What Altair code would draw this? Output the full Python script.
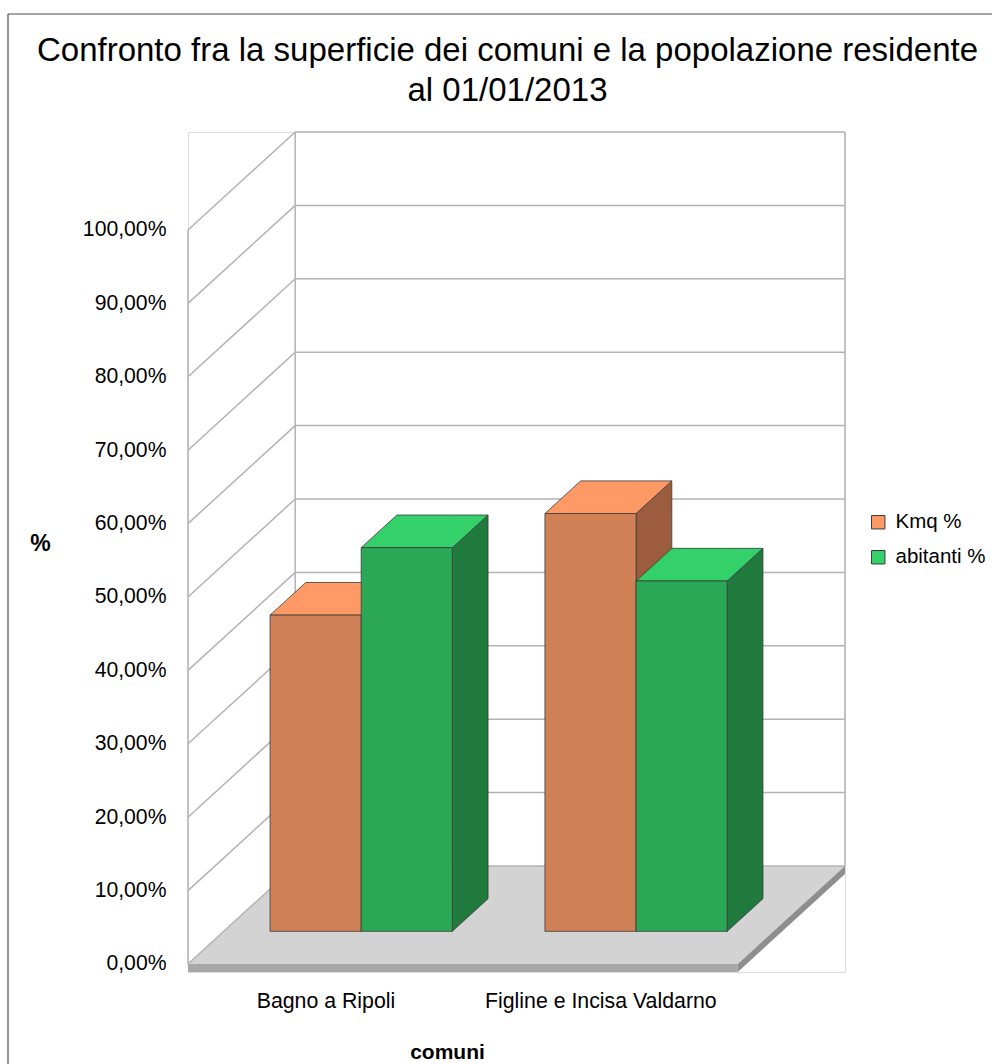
import altair as alt
import pandas as pd

# ---------------- data ----------------
categories = ["Bagno a Ripoli", "Figline e Incisa Valdarno"]
series = ["Kmq %", "abitanti %"]
kmq_pct = [43.08, 56.92]
abitanti_pct = [52.27, 47.73]
y_ticks = [0, 10, 20, 30, 40, 50, 60, 70, 80, 90, 100]
values = {"Kmq %": kmq_pct, "abitanti %": abitanti_pct}

top_colors = ["#FF9966", "#34D06A"]
front_colors = {"Kmq %": "#D08057", "abitanti %": "#2AA855"}
side_colors = {"Kmq %": "#9B5D3E", "abitanti %": "#207A3E"}

# ---------------- 3D geometry (in data units) ----------------
N = len(categories)
DX = 0.39       # depth offset along x (category units)
DY = 13.35      # depth offset along y (percent units)
BAR_W = 0.3315  # bar width (category units)
D1, D2 = 1 / 3, 2 / 3
FLOOR_T = 1.09
FONT = "Liberation Sans"

fronts, tops, sides = [], [], []
for i, cat in enumerate(categories):
    for j, s in enumerate(series):
        v = values[s][i]
        x0 = i + 0.5 - BAR_W + j * BAR_W
        x1 = x0 + BAR_W
        key = f"{i}-{j}"
        fronts.append(dict(x=x0 + DX * D1, x2=x1 + DX * D1, y=DY * D1, y2=v + DY * D1,
                           fill=front_colors[s], key=key))
        for xx, lo, hi in [
            (x0 + DX * D1, v + DY * D1, v + DY * D1),
            (x0 + DX * D2, v + DY * D1, v + DY * D2),
            (x1 + DX * D1, v + DY * D1, v + DY * D2),
            (x1 + DX * D2, v + DY * D2, v + DY * D2),
        ]:
            tops.append(dict(x=xx, y=lo, y2=hi, series=s, key=key))
        for xx, lo, hi in [
            (x1 + DX * D1, DY * D1, v + DY * D1),
            (x1 + DX * D2, DY * D2, v + DY * D2),
        ]:
            sides.append(dict(x=xx, y=lo, y2=hi, fill=side_colors[s], key=key))

walls = []
for v in y_ticks:
    walls.append(dict(x=DX, x2=N + DX, y=v + DY, y2=v + DY))   # back wall
    walls.append(dict(x=0, x2=DX, y=v, y2=v + DY))             # left wall
walls.append(dict(x=0, x2=0, y=0, y2=100))
walls.append(dict(x=DX, x2=DX, y=DY, y2=100 + DY))
walls.append(dict(x=N + DX, x2=N + DX, y=DY, y2=100 + DY))

floor_top = [dict(x=0, y=0, y2=0), dict(x=DX, y=0, y2=DY),
             dict(x=N, y=0, y2=DY), dict(x=N + DX, y=DY, y2=DY)]
floor_side = [dict(x=N, y=-FLOOR_T, y2=0), dict(x=N + DX, y=DY - FLOOR_T, y2=DY)]
floor_front = [dict(x=0, x2=N, y=-FLOOR_T, y2=0)]

# ---------------- scales / axes ----------------
xscale = alt.Scale(domain=[0, N + DX], nice=False, zero=False)
yscale = alt.Scale(domain=[-FLOOR_T, 100 + DY], nice=False, zero=False)
cat_expr = "[" + ",".join("'" + c + "'" for c in categories) + "][floor(datum.value)]"
xaxis = alt.Axis(values=[i + 0.5 for i in range(N)], labelExpr=cat_expr, domain=False,
                 ticks=False, grid=False, labelFont=FONT, labelFontSize=21.3, labelColor="black",
                 labelPadding=18, labelLimit=0, title="comuni", titleFont=FONT, titleFontSize=21,
                 titleFontWeight="bold", titleColor="black", titleX=259, titleY=80,
                 titleAlign="center", titleBaseline="middle")
yaxis = alt.Axis(values=y_ticks,
                 labelExpr="replace(format(datum.value, '.2f'), '.', ',') + '%'",
                 domain=False, ticks=False, grid=False, labelFont=FONT, labelFontSize=21.2,
                 labelColor="black", labelPadding=22, title="%", titleFont=FONT,
                 titleFontSize=23, titleFontWeight="bold", titleColor="black", titleAngle=0,
                 titleX=-148, titleY=411, titleAlign="center", titleBaseline="middle")


def X(f="x"):
    return alt.X(f"{f}:Q", scale=xscale, axis=xaxis, title="comuni")


def Y(f="y"):
    return alt.Y(f"{f}:Q", scale=yscale, axis=yaxis, title="%", stack=None)


GRID = "#B3B3B3"
OUT = "#3A3A3A"

floor_top_l = alt.Chart(pd.DataFrame(floor_top)).mark_area(color="#D3D3D3").encode(
    x=X(), y=Y(), y2="y2:Q")
floor_front_l = alt.Chart(pd.DataFrame(floor_front)).mark_rect(color="#A8A8A8").encode(
    x=X(), x2="x2:Q", y=Y(), y2="y2:Q")
floor_side_l = alt.Chart(pd.DataFrame(floor_side)).mark_area(color="#8E8E8E").encode(
    x=X(), y=Y(), y2="y2:Q")
walls_l = alt.Chart(pd.DataFrame(walls)).mark_rule(color=GRID, strokeWidth=1.5).encode(
    x=X(), x2="x2:Q", y=Y(), y2="y2:Q")
sides_l = alt.Chart(pd.DataFrame(sides)).mark_area(stroke=OUT, strokeWidth=0.8).encode(
    x=X(), y=Y(), y2="y2:Q", color=alt.Color("fill:N", scale=None), detail="key:N")
tops_l = alt.Chart(pd.DataFrame(tops)).mark_area(stroke=OUT, strokeWidth=0.8).encode(
    x=X(), y=Y(), y2="y2:Q", detail="key:N",
    color=alt.Color("series:N", scale=alt.Scale(domain=series, range=top_colors),
                    legend=alt.Legend(title=None, orient="none", legendX=680, legendY=380,
                                      symbolType="square", symbolSize=180,
                                      symbolStrokeColor=OUT, symbolStrokeWidth=1,
                                      labelFont=FONT, labelFontSize=20.5, labelColor="black",
                                      labelOffset=7, rowPadding=14, padding=0)))
fronts_l = alt.Chart(pd.DataFrame(fronts)).mark_rect(stroke=OUT, strokeWidth=0.8).encode(
    x=X(), x2="x2:Q", y=Y(), y2="y2:Q", color=alt.Color("fill:N", scale=None))

one = pd.DataFrame([{"a": 1}])
border_h = alt.Chart(one).mark_rule(color="#4D4D4D", strokeWidth=1.2).encode(
    x=alt.value(-180), x2=alt.value(900), y=alt.value(-118))
border_v = alt.Chart(one).mark_rule(color="#4D4D4D", strokeWidth=1.2).encode(
    x=alt.value(-180), y=alt.value(-118), y2=alt.value(1000))

chart = alt.layer(
    floor_top_l, floor_front_l, floor_side_l, walls_l, sides_l, tops_l, fronts_l,
    border_h, border_v
).properties(
    width=657, height=840,
    padding={"left": 188, "top": 132, "right": 147, "bottom": 92},
    autosize=alt.AutoSizeParams(type="none"),
    title=alt.TitleParams(
        text=["Confronto fra la superficie dei comuni e la popolazione residente",
              "al 01/01/2013"],
        font=FONT, fontSize=33, fontWeight="normal", color="black", lineHeight=40,
        anchor="middle", offset=0, dx=-9, dy=95),
).configure_view(stroke=None).configure(background="white")

chart.save("out.html", embed_options={"renderer": "svg", "actions": False})
